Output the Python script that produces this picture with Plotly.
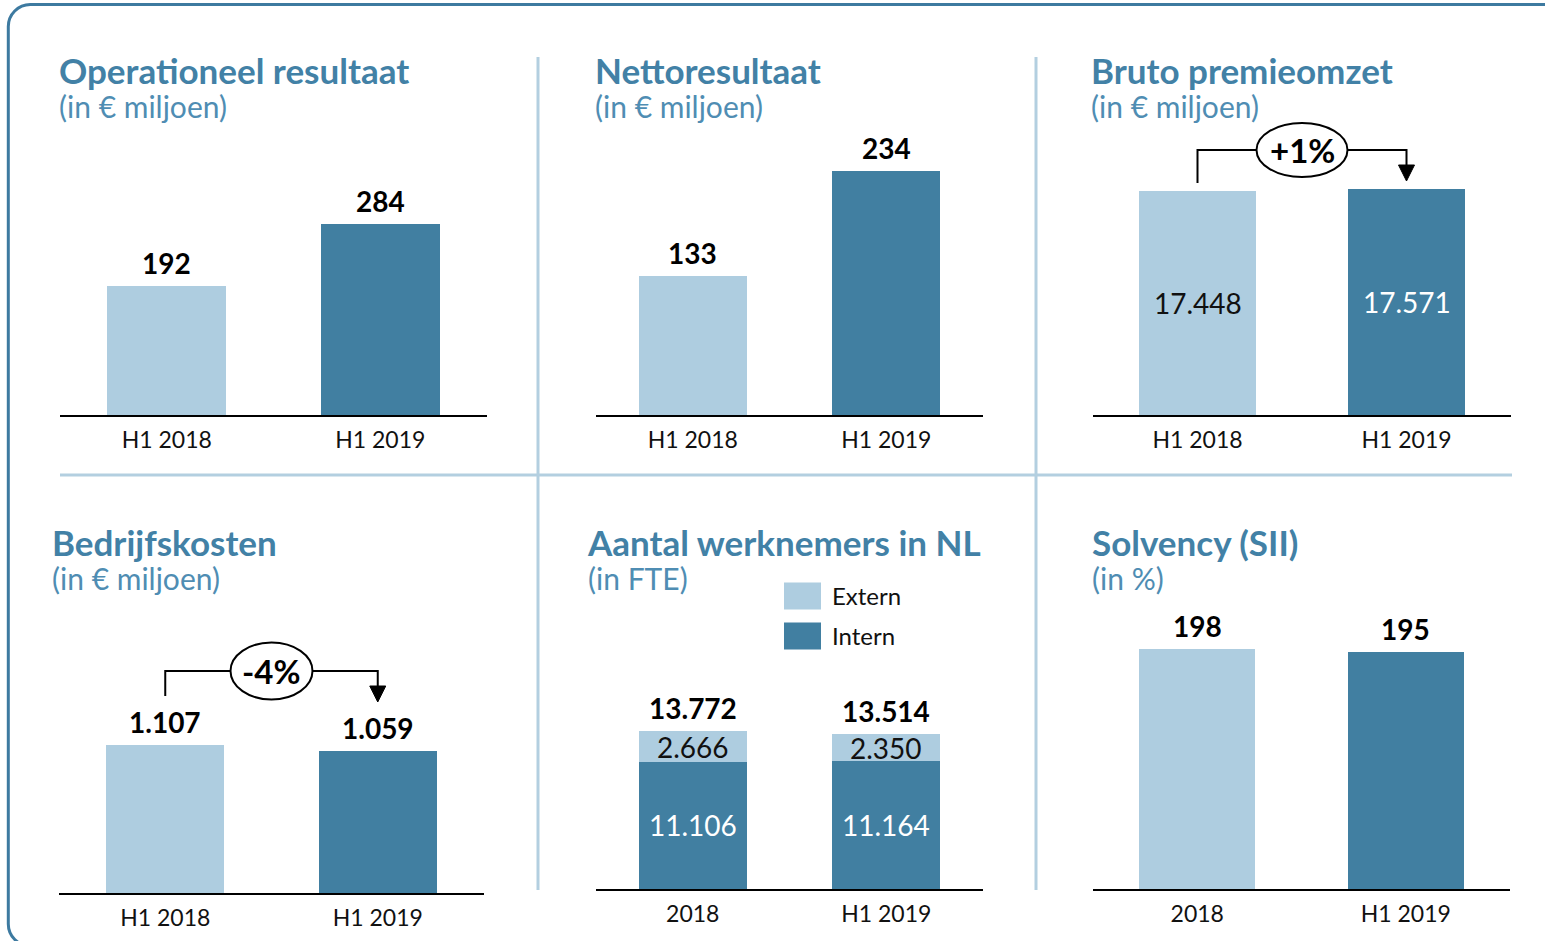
import plotly.graph_objects as go

W, H = 1545, 941

# ---------------- data ----------------
periods_h1 = ["H1 2018", "H1 2019"]
periods_fte = ["2018", "H1 2019"]
operationeel_resultaat = [192, 284]
nettoresultaat = [133, 234]
bruto_premieomzet = [17448, 17571]
bedrijfskosten = [1107, 1059]
fte_intern = [11106, 11164]
fte_extern = [2666, 2350]
solvency = [198, 195]
legend_labels = ["Extern", "Intern"]

# ---------------- style ----------------
LIGHT = "#aecde0"
DARK = "#417fa1"
TITLE_C = "#4281a6"
SUB_C = "#4f8db3"
DIV_C = "#b3cfe0"
BORDER_C = "#3d7aa0"
FONT = "Lato, 'Open Sans', sans-serif"
BAR_W = 0.556
VAL_SIZE = 28


def nl(v):
    return f"{v:,}".replace(",", ".")


def px(x):
    return x / W


def py(y):
    return 1 - y / H


panels = [
    dict(t="Operationeel resultaat", s="(in € miljoen)", tx=60, ty=73, x0=60, x1=487, base=415, top=150, ymax=394, cats=periods_h1),
    dict(t="Nettoresultaat", s="(in € miljoen)", tx=596, ty=73, x0=596, x1=983, base=415, top=150, ymax=254, cats=periods_h1),
    dict(t="Bruto premieomzet", s="(in € miljoen)", tx=1092, ty=73, x0=1093, x1=1511, base=415, top=150, ymax=20620, cats=periods_h1),
    dict(t="Bedrijfskosten", s="(in € miljoen)", tx=53, ty=545, x0=59, x1=484, base=893, top=640, ymax=1892, cats=periods_h1),
    dict(t="Aantal werknemers in NL", s="(in FTE)", tx=588, ty=545, x0=596, x1=983, base=889, top=640, ymax=21750, cats=periods_fte),
    dict(t="Solvency (SII)", s="(in %)", tx=1093, ty=545, x0=1093, x1=1510, base=889, top=600, ymax=238, cats=periods_fte),
]

fig = go.Figure()
annotations = []
shapes = []
layout_axes = {}

for i, p in enumerate(panels, start=1):
    sfx = "" if i == 1 else str(i)
    layout_axes[f"xaxis{sfx}"] = dict(
        domain=[px(p["x0"]), px(p["x1"])], range=[-0.5, 1.5],
        tickvals=[0, 1], ticktext=p["cats"], showline=True, linecolor="#000000",
        linewidth=2, showgrid=False, zeroline=False, ticks="",
        tickfont=dict(size=23, color="#111111", family=FONT),
        anchor=f"y{sfx}", fixedrange=True, ticklabelstandoff=3,
    )
    layout_axes[f"yaxis{sfx}"] = dict(
        domain=[py(p["base"]), py(p["top"])], range=[0, p["ymax"]],
        visible=False, anchor=f"x{sfx}", fixedrange=True,
    )
    # title + subtitle as one two-line text block (base size sets the line pitch)
    block = (f"<span style='font-size:35px;color:{TITLE_C}'><b>{p['t']}</b></span><br>"
             f"<span style='font-size:30px;color:{SUB_C}'>{p['s']}</span>")
    annotations.append(dict(x=px(p["tx"] - 3), y=py(p["ty"] + 13.5), xref="paper", yref="paper",
                            text=block, showarrow=False, xanchor="left", align="left",
                            yanchor="middle", font=dict(size=26, color=TITLE_C, family=FONT)))

colors2 = [LIGHT, DARK]


def simple_bar(vals, ax, label_above=True, inside_colors=None):
    sfx = "" if ax == 1 else str(ax)
    fig.add_trace(go.Bar(x=[0, 1], y=vals, width=BAR_W, marker=dict(color=colors2, line=dict(width=0)),
                         xaxis=f"x{sfx}", yaxis=f"y{sfx}", hoverinfo="skip"))
    for j, v in enumerate(vals):
        if label_above:
            annotations.append(dict(x=j, y=v, xref=f"x{sfx}", yref=f"y{sfx}", text=f"<b>{nl(v)}</b>",
                                    showarrow=False, yanchor="middle", yshift=23,
                                    font=dict(size=VAL_SIZE, color="#000000", family=FONT)))
        else:
            annotations.append(dict(x=j, y=v / 2, xref=f"x{sfx}", yref=f"y{sfx}", text=nl(v),
                                    showarrow=False, yanchor="middle",
                                    font=dict(size=VAL_SIZE, color=inside_colors[j], family=FONT)))


simple_bar(operationeel_resultaat, 1)
simple_bar(nettoresultaat, 2)
simple_bar(bruto_premieomzet, 3, label_above=False, inside_colors=["#111111", "#ffffff"])
simple_bar(bedrijfskosten, 4)
simple_bar(solvency, 6)

# stacked FTE panel
fig.add_trace(go.Bar(x=[0, 1], y=fte_intern, width=BAR_W, marker=dict(color=DARK, line=dict(width=0)),
                     xaxis="x5", yaxis="y5", name=legend_labels[1], hoverinfo="skip"))
fig.add_trace(go.Bar(x=[0, 1], y=fte_extern, width=BAR_W, marker=dict(color=LIGHT, line=dict(width=0)),
                     xaxis="x5", yaxis="y5", name=legend_labels[0], hoverinfo="skip"))
for j in range(2):
    tot = fte_intern[j] + fte_extern[j]
    annotations.append(dict(x=j, y=fte_intern[j] / 2, xref="x5", yref="y5", text=nl(fte_intern[j]),
                            showarrow=False, yanchor="middle", font=dict(size=VAL_SIZE, color="#ffffff", family=FONT)))
    annotations.append(dict(x=j, y=fte_intern[j] + fte_extern[j] / 2, xref="x5", yref="y5", text=nl(fte_extern[j]),
                            showarrow=False, yanchor="middle", font=dict(size=VAL_SIZE, color="#111111", family=FONT)))
    annotations.append(dict(x=j, y=tot, xref="x5", yref="y5", text=f"<b>{nl(tot)}</b>",
                            showarrow=False, yanchor="middle", yshift=23,
                            font=dict(size=VAL_SIZE, color="#000000", family=FONT)))

# custom legend for FTE panel
for k, (lab, col) in enumerate(zip(legend_labels, [LIGHT, DARK])):
    yc = 596 + 40 * k
    shapes.append(dict(type="rect", xref="paper", yref="paper", x0=px(784), x1=px(821),
                       y0=py(yc + 13.5), y1=py(yc - 13.5), fillcolor=col, line=dict(width=0)))
    annotations.append(dict(x=px(830), y=py(yc - 0.5), xref="paper", yref="paper", text=lab, showarrow=False,
                            xanchor="left", yanchor="middle", font=dict(size=24, color="#111111", family=FONT)))


# change brackets
def change_bracket(vals, ax, y_line, y_left_end, y_arrow_top, y_tip, ell_w, ell_h, span_px):
    xr = f"x{ax}"
    pct = round((vals[1] / vals[0] - 1) * 100)
    label = f"+{pct}%" if pct > 0 else f"{pct}%"
    d = ell_w / 2 / (span_px / 2)  # half ellipse width in data units
    path = (f"M 0,{py(y_left_end)} L 0,{py(y_line)} L {0.5 - d},{py(y_line)} "
            f"M {0.5 + d},{py(y_line)} L 1,{py(y_line)} L 1,{py(y_arrow_top)}")
    shapes.append(dict(type="path", xref=xr, yref="paper", path=path, line=dict(color="#000000", width=2)))
    tw = 8 / (span_px / 2)
    tri = f"M {1 - tw},{py(y_arrow_top)} L {1 + tw},{py(y_arrow_top)} L 1,{py(y_tip)} Z"
    shapes.append(dict(type="path", xref=xr, yref="paper", path=tri, fillcolor="#000000",
                       line=dict(color="#000000", width=1)))
    shapes.append(dict(type="circle", xref=xr, yref="paper", x0=0.5 - d, x1=0.5 + d,
                       y0=py(y_line + ell_h / 2), y1=py(y_line - ell_h / 2),
                       fillcolor="#ffffff", line=dict(color="#000000", width=2)))
    annotations.append(dict(x=0.5, y=py(y_line), xref=xr, yref="paper", text=f"<b>{label}</b>",
                            showarrow=False, yanchor="middle", font=dict(size=33, color="#000000", family=FONT)))


change_bracket(bruto_premieomzet, 3, y_line=150, y_left_end=183, y_arrow_top=165, y_tip=181,
               ell_w=91, ell_h=54, span_px=418)
change_bracket(bedrijfskosten, 4, y_line=671, y_left_end=696, y_arrow_top=686, y_tip=702,
               ell_w=82, ell_h=57, span_px=425)

# dividers
shapes.append(dict(type="line", xref="paper", yref="paper", x0=px(60), x1=px(1512), y0=py(475), y1=py(475),
                   line=dict(color=DIV_C, width=3)))
for xv in (538, 1036):
    shapes.append(dict(type="line", xref="paper", yref="paper", x0=px(xv), x1=px(xv), y0=py(57), y1=py(890),
                       line=dict(color=DIV_C, width=3)))

# outer rounded border
r = 22
L, T, B = 8.3, 4.5, 946
k = 0.552 * r
border = (f"M {px(1600)},{py(T)} L {px(L + r)},{py(T)} "
          f"C {px(L + r - k)},{py(T)} {px(L)},{py(T + r - k)} {px(L)},{py(T + r)} "
          f"L {px(L)},{py(B - r)} "
          f"C {px(L)},{py(B - r + k)} {px(L + r - k)},{py(B)} {px(L + r)},{py(B)} "
          f"L {px(1600)},{py(B)}")
shapes.append(dict(type="path", xref="paper", yref="paper", path=border, line=dict(color=BORDER_C, width=3)))

fig.update_layout(
    width=W, height=H, margin=dict(l=0, r=0, t=0, b=0),
    paper_bgcolor="#ffffff", plot_bgcolor="rgba(0,0,0,0)",
    showlegend=False, barmode="stack",
    annotations=annotations, shapes=shapes,
    font=dict(family=FONT),
    **layout_axes,
)

fig.write_html("out.html", config={"displayModeBar": False},
               post_script="document.body.style.margin='0';document.body.style.overflow='hidden';")
